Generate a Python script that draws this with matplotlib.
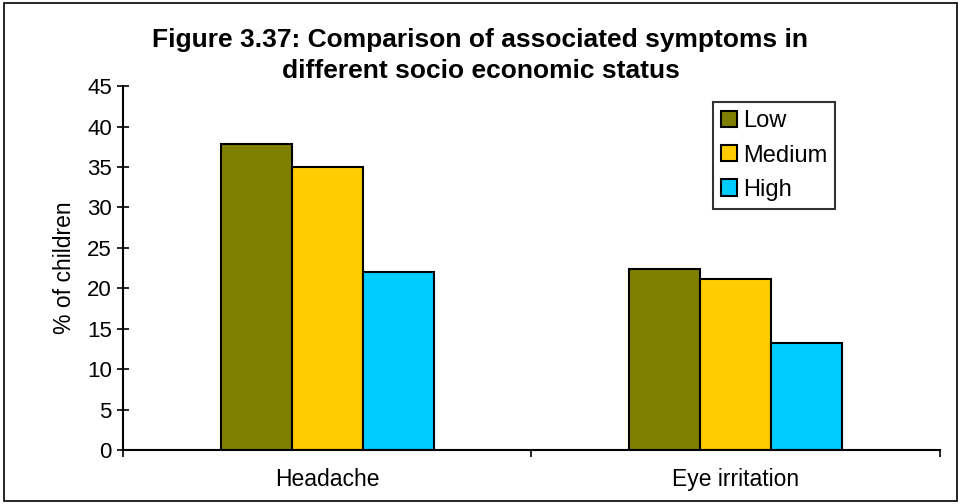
import matplotlib
matplotlib.use("Agg")
import matplotlib.pyplot as plt
import numpy as np
from matplotlib.patches import Rectangle

plt.rcParams["font.family"] = ["Liberation Sans", "DejaVu Sans"]

categories = ["Headache", "Eye irritation"]
low = [37.9, 22.4]
medium = [35.0, 21.1]
high = [22.0, 13.3]
series = ["Low", "Medium", "High"]
colors = ["#808000", "#FFCC00", "#00CCFF"]
title_lines = ["Figure 3.37: Comparison of associated symptoms in",
               "different socio economic status"]

fig = plt.figure(figsize=(9.61, 5.04), dpi=100)
ax = fig.add_axes([0.128, 0.107, 0.85, 0.722])

x = np.arange(len(categories))
w = 0.174
for i, (vals, name, c) in enumerate(zip([low, medium, high], series, colors)):
    ax.bar(x + (i - 1) * w, vals, w, color=c, edgecolor="black",
           linewidth=1.5, label=name)

ax.set_xlim(-0.5, 1.5)
ax.set_ylim(0, 45)
ax.set_yticks(range(0, 46, 5))
ax.set_xticks([-0.5, 0.5, 1.5])
ax.set_xticklabels([])
ax.set_xticks(x, minor=True)
ax.set_xticklabels(categories, minor=True)
ax.tick_params(axis="x", which="minor", length=0, pad=13, labelsize=16.5)
ax.tick_params(axis="x", which="major", direction="out", length=5, width=1.2)
ax.tick_params(axis="y", direction="inout", length=8, width=1.2, labelsize=16, pad=4)
for s in ["top", "right"]:
    ax.spines[s].set_visible(False)
for s in ["left", "bottom"]:
    ax.spines[s].set_linewidth(1.5)

ax.set_ylabel("% of children", fontsize=16.5, labelpad=8)

# title, two lines placed at their baselines
fig.text(0.5, 0.907, title_lines[0], ha="center", va="baseline",
         fontsize=19, fontweight="bold")
fig.text(0.5, 0.845, title_lines[1], ha="center", va="baseline",
         fontsize=19, fontweight="bold")

leg = ax.legend(loc="upper left", bbox_to_anchor=(0.722, 0.956), fontsize=17,
                frameon=True, fancybox=False, edgecolor="black",
                handlelength=0.68, handleheight=0.68, handletextpad=0.25,
                labelspacing=0.52, borderpad=0.34, borderaxespad=0)
leg.get_frame().set_linewidth(1.5)
for h in leg.legend_handles:
    h.set_linewidth(1.5)

fig.patches.append(Rectangle((0.004, 0.006), 0.992, 0.988, transform=fig.transFigure,
                             fill=False, edgecolor="black", linewidth=1.2))

fig.savefig("out.png", dpi=100)
